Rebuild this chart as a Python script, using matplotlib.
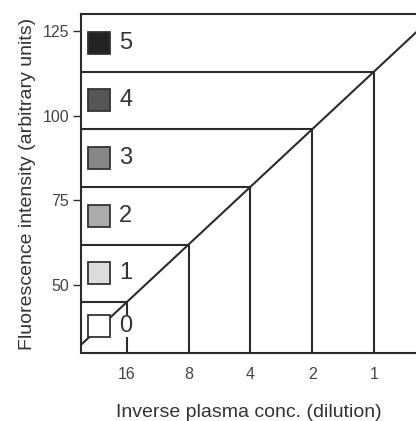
import numpy as np
import matplotlib
matplotlib.use("Agg")
import matplotlib.pyplot as plt

plt.rcParams['font.family'] = ['Liberation Sans', 'DejaVu Sans']

# data
dilutions = [16, 8, 4, 2, 1]
thresholds = [45, 62, 79, 96, 113]
scores = ['0', '1', '2', '3', '4', '5']
score_centers = [38, 53.5, 70.5, 87.5, 104.5, 121.5]
score_colors = ['#ffffff', '#dcdcdc', '#ababab', '#878787', '#565656', '#232323']
y_ticks = [50, 75, 100, 125]

LC = '#2b2b2b'
LW = 1.5

fig = plt.figure(figsize=(4.16, 4.21), dpi=100)
ax = fig.add_axes([81/416, (421-353)/421, 1 - 81/416, (353-14)/421])

xpos = [-np.log2(d) for d in dilutions]
xlo, xhi = -4.74, 0.68
ylo, yhi = 30, 130
ax.set_xlim(xlo, xhi)
ax.set_ylim(ylo, yhi)

# diagonal calibration line through threshold points
ax.axline((xpos[0], thresholds[0]), (xpos[-1], thresholds[-1]), color=LC, lw=LW, zorder=2)
# vertical and horizontal guides
ax.vlines(xpos, ylo, thresholds, color=LC, lw=LW, zorder=2)
ax.hlines(thresholds, xlo, xpos, color=LC, lw=LW, zorder=2)

# score boxes and labels
for s, yc, c in zip(scores, score_centers, score_colors):
    ax.plot([-4.45], [yc], marker='s', markersize=16.5, mfc=c, mec='#333333', mew=1.3,
            linestyle='none', zorder=4)
    t = ax.text(-4.12, yc, s, fontsize=17, color='#333333', va='center', ha='left', zorder=5)
    if s == '0':
        t.set_bbox(dict(facecolor='white', edgecolor='none', pad=0))

for side in ['left', 'bottom', 'top']:
    ax.spines[side].set_color(LC)
    ax.spines[side].set_linewidth(LW)
ax.spines['right'].set_visible(False)

ax.set_yticks(y_ticks)
ax.set_yticklabels([str(v) for v in y_ticks])
ax.set_xticks(xpos)
ax.set_xticklabels([str(d) for d in dilutions])
ax.tick_params(axis='y', direction='out', length=5.5, width=1, color=LC, labelsize=11.5,
               labelcolor='#444444', pad=3)
ax.tick_params(axis='x', length=0, labelsize=11.5, labelcolor='#444444', pad=10)

ax.set_ylabel('Fluorescence intensity (arbitrary units)', fontsize=14, color='#333333', labelpad=5)
ax.set_xlabel('Inverse plasma conc. (dilution)', fontsize=14, color='#333333', labelpad=16)

fig.savefig('out.png', dpi=100)
